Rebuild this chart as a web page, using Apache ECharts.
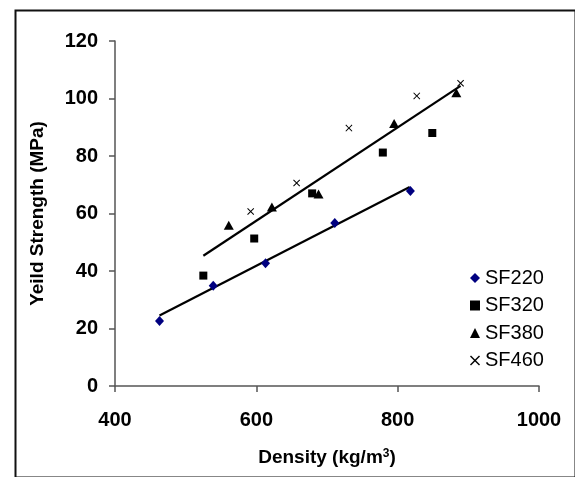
<!DOCTYPE html>
<html>
<head>
<meta charset="utf-8">
<script src="https://cdn.jsdelivr.net/npm/echarts@6/dist/echarts.min.js"></script>
<style>html,body{margin:0;padding:0;background:#fff;}#c{width:575px;height:477px;}</style>
</head>
<body>
<div id="c"></div>
<script>
var seriesNames = ['SF220', 'SF320', 'SF380', 'SF460'];
var sf220X = [463, 539, 613, 711, 818];
var sf220Y = [22.6, 34.9, 42.7, 56.7, 67.8];
var sf320X = [525, 597, 679, 779, 849];
var sf320Y = [38.4, 51.3, 67.0, 81.2, 88.0];
var sf380X = [561, 622, 688, 795, 883];
var sf380Y = [55.9, 62.3, 66.8, 91.3, 102.0];
var sf460X = [592, 657, 731, 827, 889];
var sf460Y = [60.7, 70.6, 89.7, 100.9, 105.3];
var trend1X = [463, 817];
var trend1Y = [24.5, 69.2];
var trend2X = [525, 889];
var trend2Y = [45.3, 104.4];
var xTicks = [400, 600, 800, 1000];
var yTicks = [0, 20, 40, 60, 80, 100, 120];

function pairs(xs, ys) { return xs.map(function (x, i) { return [x, ys[i]]; }); }

var FONT = 'Liberation Sans, Arial, sans-serif';
var crossPath = 'path://M0,1L1,0L5,4L9,0L10,1L6,5L10,9L9,10L5,6L1,10L0,9L4,5Z';

var chart = echarts.init(document.getElementById('c'), null, {renderer: 'canvas'});
chart.setOption({
  animation: false,
  backgroundColor: '#fff',
  textStyle: {fontFamily: FONT},
  graphic: [{
    type: 'rect', left: 13, top: 8, z: 100, silent: true,
    shape: {x: 0, y: 0, width: 560, height: 467},
    style: {fill: 'none', stroke: '#111', lineWidth: 2}
  }],
  grid: {left: 115, top: 41, right: 36, bottom: 91},
  legend: {
    data: seriesNames,
    orient: 'vertical',
    left: 465, top: 263,
    itemWidth: 10, itemHeight: 10, itemGap: 7.5,
    textStyle: {fontFamily: FONT, fontSize: 20, color: '#000', lineHeight: 20}
  },
  xAxis: {
    type: 'value', min: xTicks[0], max: xTicks[xTicks.length - 1], interval: 200,
    name: 'Density (kg/m{sup|3})',
    nameLocation: 'middle', nameGap: 62,
    nameTextStyle: {fontFamily: FONT, fontSize: 19, fontWeight: 'bold', color: '#000',
      rich: {sup: {fontFamily: FONT, fontSize: 12, fontWeight: 'bold', color: '#000', verticalAlign: 'top', padding: [0, 0, 8, 0]}}},
    axisLine: {lineStyle: {color: '#555', width: 1.5}},
    axisTick: {inside: false, length: 6, lineStyle: {color: '#555', width: 1.5}},
    axisLabel: {fontFamily: FONT, fontSize: 20, fontWeight: 'bold', color: '#000', margin: 24,
      formatter: function (v) { return String(v); }},
    splitLine: {show: false}
  },
  yAxis: {
    type: 'value', min: yTicks[0], max: yTicks[yTicks.length - 1], interval: 20,
    name: 'Yeild Strength (MPa)',
    nameLocation: 'middle', nameGap: 68,
    nameTextStyle: {fontFamily: FONT, fontSize: 19, fontWeight: 'bold', color: '#000'},
    axisLine: {show: true, lineStyle: {color: '#555', width: 1.5}},
    axisTick: {show: true, inside: false, length: 6, lineStyle: {color: '#555', width: 1.5}},
    axisLabel: {fontFamily: FONT, fontSize: 20, fontWeight: 'bold', color: '#000', margin: 17,
      formatter: function (v) { return String(v); }},
    splitLine: {show: false}
  },
  series: [
    {name: 'trend1', type: 'line', data: pairs(trend1X, trend1Y), symbol: 'none',
      lineStyle: {color: '#000', width: 2.2}, z: 1},
    {name: 'trend2', type: 'line', data: pairs(trend2X, trend2Y), symbol: 'none',
      lineStyle: {color: '#000', width: 2.2}, z: 1},
    {name: 'SF220', type: 'scatter', data: pairs(sf220X, sf220Y), symbol: 'diamond', symbolSize: [9, 10],
      itemStyle: {color: '#000080', opacity: 1}, z: 3},
    {name: 'SF320', type: 'scatter', data: pairs(sf320X, sf320Y), symbol: 'rect', symbolSize: 8,
      itemStyle: {color: '#000', opacity: 1}, z: 3},
    {name: 'SF380', type: 'scatter', data: pairs(sf380X, sf380Y), symbol: 'triangle', symbolSize: [10, 9],
      itemStyle: {color: '#000', opacity: 1}, z: 3},
    {name: 'SF460', type: 'scatter', data: pairs(sf460X, sf460Y), symbol: crossPath, symbolSize: 7,
      itemStyle: {color: '#000', opacity: 1}, z: 3}
  ]
});
</script>
</body>
</html>
